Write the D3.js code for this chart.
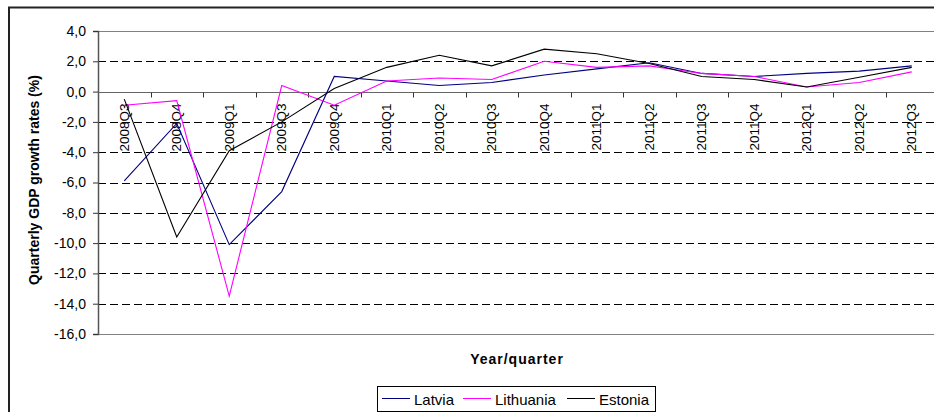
<!DOCTYPE html>
<html>
<head>
<meta charset="utf-8">
<script src="https://cdn.jsdelivr.net/npm/d3@7"></script>
<style>
  body { margin: 0; background: #fff; }
  svg { display: block; font-family: Arial, "Liberation Sans", sans-serif; }
</style>
</head>
<body>
<div id="vis"></div>
<script>
// DATA
const quarters = ["2008Q3","2008Q4","2009Q1","2009Q3","2009Q4","2010Q1","2010Q2","2010Q3",
                  "2010Q4","2011Q1","2011Q2","2011Q3","2011Q4","2012Q1","2012Q2","2012Q3"];
const latvia    = [-5.9, -2.1, -10.1, -6.6, 1.0, 0.7, 0.4, 0.6, 1.1, 1.5, 1.9, 1.2, 1.0, 1.2, 1.35, 1.7];
const lithuania = [-0.9, -0.6, -13.5, 0.4, -0.9, 0.7, 0.9, 0.8, 2.0, 1.6, 1.7, 1.2, 1.0, 0.3, 0.6, 1.3];
const estonia   = [-0.5, -9.6, -3.9, -2.0, 0.2, 1.6, 2.4, 1.7, 2.8, 2.5, 1.85, 1.0, 0.8, 0.3, 0.95, 1.6];
const yTicks = [4, 2, 0, -2, -4, -6, -8, -10, -12, -14, -16];

const series = [
  {name: "Latvia", values: latvia, color: "#000080"},
  {name: "Lithuania", values: lithuania, color: "#ff00ff"},
  {name: "Estonia", values: estonia, color: "#000000"}
];

const width = 934, height = 412;
const plot = {left: 98, right: 938, top: 31, bottom: 334};

const svg = d3.select("#vis").append("svg")
  .attr("width", width)
  .attr("height", height);

// outer chart border (cropped at right/bottom)
svg.append("rect")
  .attr("x", 9).attr("y", 7.5)
  .attr("width", 960).attr("height", 440)
  .attr("fill", "none")
  .attr("stroke", "#222")
  .attr("stroke-width", 2);

// SCALES
const x = d3.scaleBand().domain(quarters).range([plot.left, plot.right]);
const y = d3.scaleLinear().domain([-16, 4]).range([plot.bottom, plot.top]);

// gridlines
svg.append("g").selectAll("line")
  .data(yTicks.filter(d => d !== 4 && d !== 0 && d !== -16))
  .enter().append("line")
  .attr("x1", plot.left).attr("x2", plot.right)
  .attr("y1", d => Math.round(y(d)) + 0.5).attr("y2", d => Math.round(y(d)) + 0.5)
  .attr("stroke", "#000")
  .attr("stroke-dasharray", "8,4");

// top and bottom frame lines
[4, -16].forEach(v => {
  svg.append("line")
    .attr("x1", plot.left).attr("x2", plot.right)
    .attr("y1", Math.round(y(v)) + 0.5).attr("y2", Math.round(y(v)) + 0.5)
    .attr("stroke", "#808080");
});

// y axis
const yAxis = svg.append("g")
  .attr("transform", `translate(${plot.left},0)`)
  .call(d3.axisLeft(y).tickValues(yTicks).tickSize(5).tickPadding(7)
    .tickFormat(d => d3.format(".1f")(d).replace(".", ",").replace("−", "-")));
yAxis.select(".domain").attr("stroke", "#555").attr("stroke-width", 1.5);
yAxis.selectAll(".tick line").attr("stroke", "#333");
yAxis.selectAll("text")
  .attr("font-size", 14)
  .attr("font-family", "Arial, 'Liberation Sans', sans-serif")
  .attr("fill", "#000");

// x axis on zero line
const y0 = Math.round(y(0)) + 0.5;
svg.append("line")
  .attr("x1", plot.left).attr("x2", plot.right)
  .attr("y1", y0).attr("y2", y0)
  .attr("stroke", "#666");
svg.append("g").selectAll("line")
  .data(quarters.slice(1))
  .enter().append("line")
  .attr("x1", d => Math.round(x(d)) + 0.5).attr("x2", d => Math.round(x(d)) + 0.5)
  .attr("y1", y0).attr("y2", y0 + 5)
  .attr("stroke", "#333");

svg.append("g").selectAll("text")
  .data(quarters)
  .enter().append("text")
  .attr("transform", d => `translate(${x(d) + x.bandwidth() / 2},${y0 + 11}) rotate(-90)`)
  .attr("text-anchor", "end")
  .attr("dy", "0.35em")
  .attr("font-size", 13.5)
  .attr("fill", "#000")
  .text(d => d);

// lines
const line = d3.line()
  .x((d, i) => x(quarters[i]) + x.bandwidth() / 2)
  .y(d => y(d));

svg.append("g").selectAll("path")
  .data(series)
  .enter().append("path")
  .attr("d", d => line(d.values))
  .attr("fill", "none")
  .attr("stroke", d => d.color)
  .attr("stroke-width", 1.1);

// titles
svg.append("text")
  .attr("transform", `translate(39,180) rotate(-90)`)
  .attr("text-anchor", "middle")
  .attr("font-size", 14)
  .attr("font-weight", "bold")
  .text("Quarterly GDP growth rates (%)");

svg.append("text")
  .attr("x", 517).attr("y", 364)
  .attr("text-anchor", "middle")
  .attr("font-size", 14)
  .attr("font-weight", "bold")
  .attr("letter-spacing", "1px")
  .text("Year/quarter");

// legend
const legend = svg.append("g");
legend.append("rect")
  .attr("x", 377.5).attr("y", 386.5)
  .attr("width", 278).attr("height", 25)
  .attr("fill", "#fff")
  .attr("stroke", "#000");
const legendX = [382, 463, 567];
series.forEach((s, i) => {
  legend.append("line")
    .attr("x1", legendX[i]).attr("x2", legendX[i] + 28)
    .attr("y1", 398.5).attr("y2", 398.5)
    .attr("stroke", s.color);
  legend.append("text")
    .attr("x", legendX[i] + 32).attr("y", 404.5)
    .attr("font-size", 15)
    .text(s.name);
});
</script>
</body>
</html>
